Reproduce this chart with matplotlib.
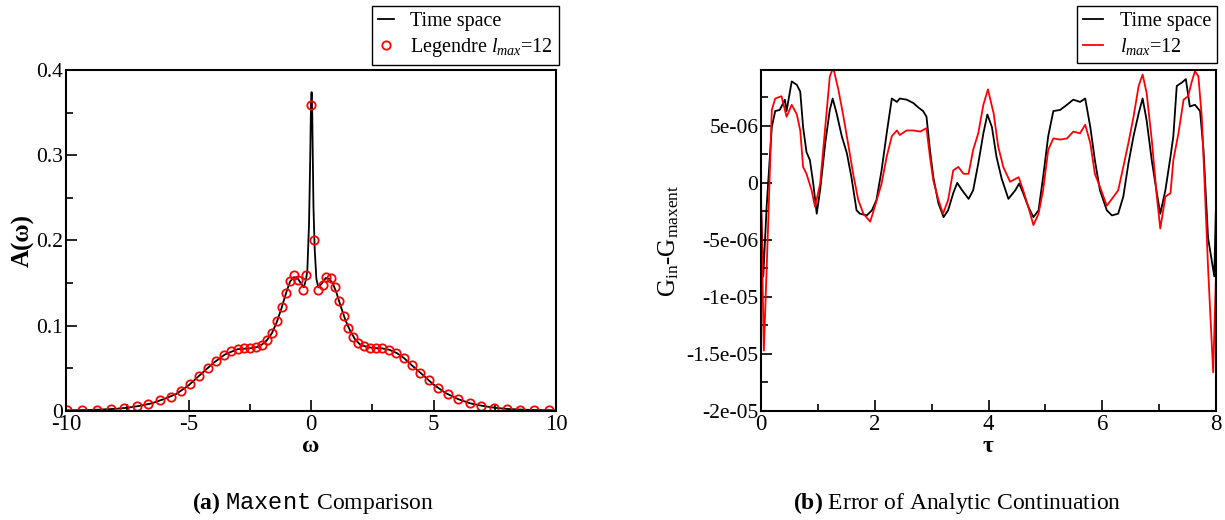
import matplotlib
matplotlib.use("Agg")
import matplotlib.pyplot as plt
from matplotlib.ticker import MultipleLocator, FuncFormatter

plt.rcParams['font.family'] = 'Liberation Serif'
plt.rcParams['mathtext.fontset'] = 'custom'
plt.rcParams['mathtext.rm'] = 'Liberation Serif'
plt.rcParams['mathtext.it'] = 'Liberation Serif:italic'
plt.rcParams['mathtext.bf'] = 'Liberation Serif:bold'
plt.rcParams['mathtext.tt'] = 'Liberation Mono'
plt.rcParams['axes.unicode_minus'] = False

# (a) spectral function, time-space result (line)
omega_line = [-10.0, -9.0, -8.0, -7.5, -7.0, -6.5, -6.0, -5.5, -5.0, -4.5, -4.0, -3.5,
              -3.0, -2.5, -2.2, -2.0, -1.8, -1.6, -1.4, -1.2, -1.0, -0.85, -0.7, -0.55,
              -0.42, -0.29, -0.2, -0.15, -0.08, -0.03, 0.0, 0.025, 0.05, 0.1, 0.15, 0.22,
              0.3, 0.45, 0.6, 0.75, 0.9, 1.05, 1.2, 1.4, 1.6, 1.8, 2.0, 2.3, 2.6, 2.9,
              3.2, 3.5, 3.8, 4.1, 4.5, 5.0, 5.5, 6.0, 6.5, 7.0, 7.5, 8.0, 9.0, 10.0]
A_line = [0.0008, 0.0012, 0.0025, 0.0038, 0.006, 0.009, 0.014, 0.020, 0.030, 0.043, 0.056, 0.0665,
          0.0725, 0.0735, 0.075, 0.078, 0.083, 0.091, 0.104, 0.121, 0.140, 0.152, 0.157, 0.156,
          0.150, 0.145, 0.155, 0.165, 0.22, 0.30, 0.36, 0.374, 0.35, 0.24, 0.19, 0.155,
          0.145, 0.150, 0.156, 0.155, 0.149, 0.138, 0.124, 0.107, 0.094, 0.084, 0.078, 0.075, 0.0738, 0.0735,
          0.0718, 0.068, 0.062, 0.054, 0.044, 0.031, 0.021, 0.014, 0.009, 0.006, 0.0038, 0.0024, 0.0012, 0.0008]

# (a) Legendre l_max=12 result (circles)
omega_pts = [-9.95, -9.33, -8.73, -8.17, -7.64, -7.11, -6.64, -6.17, -5.73, -5.31, -4.92, -4.56,
             -4.22, -3.88, -3.55, -3.28, -3.00, -2.72, -2.48, -2.23, -2.00, -1.80, -1.58, -1.39,
             -1.20, -1.02, -0.86, -0.69, -0.52, -0.34, -0.19, 0.0, 0.14, 0.30, 0.47, 0.63,
             0.80, 0.97, 1.14, 1.33, 1.52, 1.72, 1.92, 2.16, 2.42, 2.66, 2.89, 3.17,
             3.48, 3.80, 4.11, 4.45, 4.80, 5.20, 5.61, 6.02, 6.48, 6.95, 7.47, 7.98,
             8.52, 9.11, 9.70]
A_pts = [0.001, 0.001, 0.0016, 0.002, 0.003, 0.0055, 0.008, 0.0125, 0.017, 0.024, 0.032, 0.041,
         0.050, 0.0585, 0.066, 0.070, 0.0726, 0.0734, 0.0734, 0.075, 0.078, 0.0835, 0.092, 0.105,
         0.122, 0.139, 0.153, 0.159, 0.154, 0.142, 0.160, 0.359, 0.201, 0.142, 0.148, 0.157,
         0.156, 0.145, 0.129, 0.112, 0.0976, 0.087, 0.080, 0.0757, 0.074, 0.0734, 0.0734, 0.0718,
         0.068, 0.0617, 0.054, 0.045, 0.036, 0.027, 0.0195, 0.0137, 0.0094, 0.0062, 0.0039, 0.0023,
         0.0016, 0.0008, 0.0008]

# (b) G_in - G_maxent, in units of 1e-6
tau_black = [0.0, 0.04, 0.1, 0.19, 0.25, 0.33, 0.42, 0.45, 0.54, 0.63, 0.69, 0.74, 0.80, 0.86, 0.92,
             0.98, 1.04, 1.13, 1.21, 1.26, 1.33, 1.42, 1.51, 1.59, 1.68, 1.74, 1.86, 1.95,
             2.03, 2.12, 2.21, 2.30, 2.39, 2.44, 2.56, 2.68, 2.77, 2.85, 2.91, 2.97, 3.03,
             3.12, 3.21, 3.29, 3.38, 3.45, 3.53, 3.65, 3.73, 3.82, 3.91, 3.98, 4.06, 4.14,
             4.23, 4.35, 4.47, 4.54, 4.61, 4.70, 4.79, 4.88, 4.96, 5.05, 5.14, 5.26, 5.38,
             5.49, 5.61, 5.70, 5.79, 5.87, 5.96, 6.08, 6.17, 6.28, 6.37, 6.46, 6.55, 6.64,
             6.71, 6.78, 6.87, 6.96, 7.02, 7.11, 7.20, 7.25, 7.31, 7.40, 7.47, 7.54, 7.63,
             7.72, 7.78, 7.86, 7.97, 8.0]
err_black = [-2.0, -8.2, -2.0, 4.9, 6.3, 6.4, 7.3, 6.3, 8.9, 8.6, 8.0, 4.9, 2.7, 2.0, -0.1,
             -2.7, -0.6, 3.5, 6.4, 7.4, 6.1, 4.1, 2.6, 0.5, -2.4, -2.7, -2.85, -2.4,
             -1.5, 1.1, 4.35, 7.4, 7.1, 7.4, 7.3, 7.0, 6.6, 6.3, 5.8, 2.9, 0.5,
             -1.8, -3.0, -2.4, -0.9, 0.0, -0.6, -1.4, -0.65, 1.7, 4.35, 6.0, 4.9, 2.3,
             0.4, -1.4, -0.65, -0.06, -0.9, -2.1, -3.0, -2.4, 0.5, 4.1, 6.3, 6.4, 6.85,
             7.3, 7.1, 7.4, 4.9, 2.0, -0.65, -2.4, -2.85, -2.7, -1.2, 1.7, 4.1, 6.1,
             7.4, 5.5, 2.0, -0.9, -2.7, -0.65, 2.3, 4.1, 8.5, 8.8, 9.1, 6.7, 6.85,
             6.3, 2.9, -4.8, -8.2, -1.8]

tau_red = [0.0, 0.05, 0.13, 0.19, 0.25, 0.36, 0.45, 0.54, 0.63, 0.69, 0.74, 0.80, 0.89, 0.95,
           1.04, 1.13, 1.21, 1.27, 1.36, 1.45, 1.54, 1.62, 1.71, 1.80, 1.92, 2.00, 2.12,
           2.21, 2.30, 2.39, 2.44, 2.56, 2.68, 2.80, 2.91, 2.97, 3.03, 3.12, 3.20, 3.29,
           3.38, 3.47, 3.56, 3.65, 3.73, 3.82, 3.91, 3.99, 4.09, 4.17, 4.26, 4.38, 4.53,
           4.61, 4.70, 4.79, 4.88, 4.96, 5.05, 5.14, 5.26, 5.38, 5.49, 5.61, 5.70, 5.79,
           5.87, 5.96, 6.08, 6.20, 6.28, 6.37, 6.46, 6.55, 6.64, 6.71, 6.78, 6.87, 6.96,
           7.02, 7.11, 7.20, 7.25, 7.34, 7.43, 7.51, 7.57, 7.63, 7.69, 7.75, 7.80, 7.86,
           7.95, 8.0]
err_red = [-1.0, -14.7, -3.0, 6.4, 7.4, 7.6, 5.8, 6.85, 6.0, 4.6, 1.4, 0.8, -0.65, -2.1,
           -0.06, 4.9, 9.35, 10.1, 8.2, 5.8, 3.2, 0.8, -1.5, -2.7, -3.4, -2.1, -0.06,
           2.3, 4.1, 4.6, 4.2, 4.6, 4.6, 4.5, 4.8, 2.3, 0.2, -1.5, -2.7, -1.5,
           1.1, 1.4, 0.8, 0.8, 2.9, 4.35, 6.85, 8.2, 6.1, 3.2, 1.4, 0.1, 0.5,
           -0.65, -2.1, -3.7, -2.7, -0.65, 2.9, 3.9, 3.8, 3.9, 4.5, 4.35, 5.1, 3.5,
           0.8, -0.35, -2.0, -1.2, -0.65, 1.4, 3.5, 5.8, 8.5, 9.5, 7.9, 3.8, -1.2,
           -4.0, -1.2, -0.9, 2.0, 4.35, 7.3, 7.6, 8.8, 9.8, 9.35, 5.8, -0.06, -7.4,
           -16.6, -8.0]

fmt = FuncFormatter(lambda v, p: '%g' % v)

fig = plt.figure(figsize=(12.25, 5.2), dpi=100)
ax1 = fig.add_axes([66 / 1225, 1 - 411 / 520, 490 / 1225, 341 / 520])
ax2 = fig.add_axes([761 / 1225, 1 - 411 / 520, 455 / 1225, 341 / 520])

ax1.plot(omega_line, A_line, color='black', lw=1.3, label='Time space')
ax1.plot(omega_pts, A_pts, 'o', mfc='none', mec='red', ms=6, mew=1.3,
         label=r'Legendre $l_{max}$=12')
ax1.set_xlim(-10, 10)
ax1.set_ylim(0, 0.4)
ax1.xaxis.set_major_locator(MultipleLocator(5))
ax1.xaxis.set_minor_locator(MultipleLocator(2.5))
ax1.yaxis.set_major_locator(MultipleLocator(0.1))
ax1.yaxis.set_minor_locator(MultipleLocator(0.05))
ax1.set_xlabel('ω', fontsize=17, fontweight='bold', labelpad=1)
ax1.set_ylabel('A(ω)', fontsize=18, fontweight='bold', labelpad=1)

ax2.plot(tau_black, [e * 1e-6 for e in err_black], color='black', lw=1.3,
         label='Time space')
ax2.plot(tau_red, [e * 1e-6 for e in err_red], color='red', lw=1.3,
         label=r'$l_{max}$=12')
ax2.set_xlim(0, 8)
ax2.set_ylim(-2e-5, 0.99e-5)
ax2.xaxis.set_major_locator(MultipleLocator(2))
ax2.xaxis.set_minor_locator(MultipleLocator(1))
ax2.yaxis.set_major_locator(MultipleLocator(5e-6))
ax2.yaxis.set_minor_locator(MultipleLocator(2.5e-6))
ax2.set_xlabel('τ', fontsize=17, fontweight='bold', labelpad=1)
ax2.set_ylabel(r'G$_{\mathrm{in}}$-G$_{\mathrm{maxent}}$', fontsize=18, labelpad=4)

for ax in (ax1, ax2):
    ax.xaxis.set_major_formatter(fmt)
    ax.yaxis.set_major_formatter(fmt)
    ax.tick_params(which='both', direction='in', top=False, right=False, width=1.2)
    ax.tick_params(which='major', length=8)
    ax.tick_params(which='minor', length=5)
    ax.tick_params(axis='x', labelsize=16.5, pad=2)
    ax.tick_params(axis='y', labelsize=15.5, pad=2)
    for s in ax.spines.values():
        s.set_linewidth(1.5)

leg1 = ax1.legend(loc='upper right', bbox_to_anchor=(559 / 1225, 1 - 6 / 520),
                  bbox_transform=fig.transFigure, fontsize=14.5, frameon=True,
                  fancybox=False, edgecolor='black', framealpha=1, borderaxespad=0,
                  handlelength=0.8, handletextpad=0.8, labelspacing=0.25, borderpad=0.3)
leg1.get_frame().set_linewidth(1.0)
leg2 = ax2.legend(loc='upper right', bbox_to_anchor=(1217 / 1225, 1 - 6 / 520),
                  bbox_transform=fig.transFigure, fontsize=14.5, frameon=True,
                  fancybox=False, edgecolor='black', framealpha=1, borderaxespad=0,
                  handlelength=1.0, handletextpad=0.8, labelspacing=0.25, borderpad=0.3)
leg2.get_frame().set_linewidth(1.0)

fig.text(313 / 1225, 1 - 503 / 520, r'$\mathbf{(a)}$ $\mathtt{Maxent}$ Comparison',
         ha='center', va='center', fontsize=17)
fig.text(957 / 1225, 1 - 503 / 520, r'$\mathbf{(b)}$ Error of Analytic Continuation',
         ha='center', va='center', fontsize=17)

fig.savefig('out.png', dpi=100)
